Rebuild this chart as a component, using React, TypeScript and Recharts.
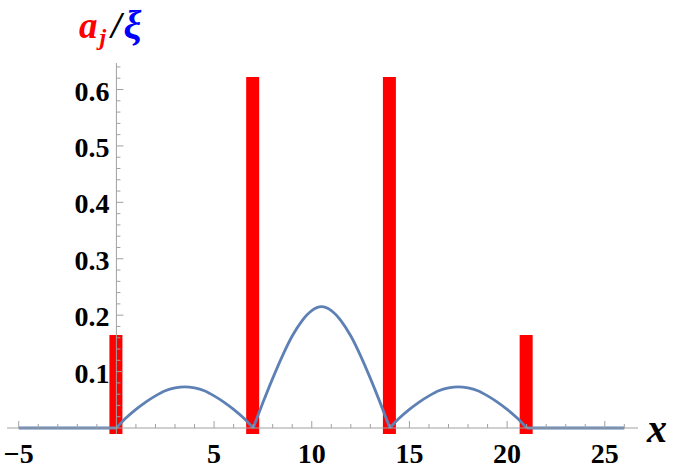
import React from 'react';
import { ComposedChart, Line, Bar, XAxis, YAxis, Scatter, ReferenceLine, Rectangle } from 'recharts';

const W = 675;
const H = 473;

// bars a_j
const barX = [0, 7, 14, 21];
const barHeights = [0.165, 0.622, 0.622, 0.165];

// blue curve xi: arcs sampled every 0.5 from their start
const arcOffsets = [0, 0.5, 1, 1.5, 2, 2.5, 3, 3.5, 4, 4.5, 5, 5.5, 6, 6.5, 7];
const smallArc = [0, 0.018, 0.033, 0.046, 0.057, 0.066, 0.071, 0.073, 0.071, 0.066, 0.057, 0.046, 0.033, 0.018, 0];
const bigArc = [0, 0.045, 0.088, 0.128, 0.163, 0.19, 0.208, 0.215, 0.208, 0.19, 0.163, 0.128, 0.088, 0.045, 0];
const arcStarts = [0, 7, 14];
const flatLeftX = [-5, 0];
const flatRightX = [21, 26];

// ticks
const xTickValues = [-5, -4, -3, -2, -1, 1, 2, 3, 4, 5, 6, 7, 8, 9, 10, 11, 12, 13, 14, 15, 16, 17, 18, 19, 20, 21, 22, 23, 24, 25, 26];
const xLabeledTicks = [-5, 5, 10, 15, 20, 25];
const xTickLabels = ['\u22125', '5', '10', '15', '20', '25'];
const yMajorTicks = [0.1, 0.2, 0.3, 0.4, 0.5, 0.6];
const yTickLabels = ['0.1', '0.2', '0.3', '0.4', '0.5', '0.6'];
const yMinorTicks = [0.02, 0.04, 0.06, 0.08, 0.12, 0.14, 0.16, 0.18, 0.22, 0.24, 0.26, 0.28, 0.32, 0.34, 0.36, 0.38, 0.42, 0.44, 0.46, 0.48, 0.52, 0.54, 0.56, 0.58, 0.62, 0.64];

const X_DOMAIN = [-5.6, 26.7];
const Y_DOMAIN = [0, 0.647];

const barData = barX.map((x, i) => ({ x, a: barHeights[i] }));
const arcs = arcStarts.map((s, k) =>
  arcOffsets.map((o, i) => ({ x: s + o, y: (k === 1 ? bigArc : smallArc)[i] }))
);
const flatLeft = flatLeftX.map((x) => ({ x, y: 0 }));
const flatRight = flatRightX.map((x) => ({ x, y: 0 }));
const yMajorData = yMajorTicks.map((y, i) => ({ x: 0, y, label: yTickLabels[i] }));
const yMinorData = yMinorTicks.map((y) => ({ x: 0, y }));

const AXIS = '#a0a0a0';
const BLUE = '#5E81B5';
const RED = '#FF0000';
const FONT = '"Liberation Serif", "Times New Roman", serif';
const BAR_W = 13;

const XTick = (props: any) => {
  const { x, y, payload } = props;
  const v = payload.value;
  const idx = xLabeledTicks.indexOf(v);
  const major = idx >= 0;
  return (
    <g>
      <line x1={x} x2={x} y1={y} y2={y - (major ? 7 : 4)} stroke={AXIS} strokeWidth={1} />
      {major && (
        <text x={x} y={y + 35} textAnchor="middle" fontFamily={FONT} fontWeight="bold" fontSize={28} fill="#000">
          {xTickLabels[idx]}
        </text>
      )}
    </g>
  );
};

const YMajorShape = (props: any) => {
  const { cx, cy, payload } = props;
  return (
    <g>
      <line x1={cx} x2={cx + 7} y1={cy} y2={cy} stroke={AXIS} strokeWidth={1} />
      <text x={cx - 7} y={cy + 11} textAnchor="end" fontFamily={FONT} fontWeight="bold" fontSize={28} fill="#000">
        {payload.label}
      </text>
    </g>
  );
};

const YMinorShape = (props: any) => {
  const { cx, cy } = props;
  return <line x1={cx} x2={cx + 4} y1={cy} y2={cy} stroke={AXIS} strokeWidth={1} />;
};

const BarShape = (props: any) => {
  const { x, y, width, height } = props;
  const c = x + width / 2;
  return <Rectangle x={c - BAR_W / 2} y={y} width={BAR_W} height={height + 6} fill={RED} />;
};

export default function App() {
  return (
    <div style={{ position: 'absolute', left: 0, top: 0, width: W, height: H, background: '#fff' }}>
      <ComposedChart
        width={W}
        height={H}
        data={barData}
        margin={{ top: 63, right: 37, bottom: 0, left: 7 }}
      >
        <XAxis
          dataKey="x"
          type="number"
          domain={X_DOMAIN}
          ticks={xTickValues}
          interval={0}
          height={45}
          tickSize={0}
          tickMargin={0}
          tickLine={false}
          axisLine={{ stroke: AXIS, strokeWidth: 1 }}
          tick={<XTick />}
        />
        <YAxis type="number" domain={Y_DOMAIN} hide width={0} />
        <Line data={flatLeft} dataKey="y" type="linear" stroke={BLUE} strokeWidth={2.8} dot={false} isAnimationActive={false} />
        {arcs.map((d, k) => (
          <Line key={k} data={d} dataKey="y" type="monotone" stroke={BLUE} strokeWidth={2.8} dot={false} isAnimationActive={false} />
        ))}
        <Line data={flatRight} dataKey="y" type="linear" stroke={BLUE} strokeWidth={2.8} dot={false} isAnimationActive={false} />
        <Bar dataKey="a" barSize={BAR_W} fill={RED} shape={<BarShape />} isAnimationActive={false} />
        <ReferenceLine
          segment={[{ x: 0, y: -0.011 }, { x: 0, y: 0.647 }]}
          stroke={AXIS}
          strokeWidth={1}
          ifOverflow="visible"
        />
        <Scatter data={yMinorData} dataKey="y" shape={<YMinorShape />} isAnimationActive={false} />
        <Scatter data={yMajorData} dataKey="y" shape={<YMajorShape />} isAnimationActive={false} />
      </ComposedChart>
      <svg width={W} height={H} style={{ position: 'absolute', left: 0, top: 0, pointerEvents: 'none' }}>
        <text x={79} y={38} fontFamily={FONT} fontWeight="bold" fontStyle="italic" fontSize={37}>
          <tspan fill={RED}>a</tspan>
          <tspan fill={RED} fontSize={24} dx={2} dy={7}>j</tspan>
          <tspan fill="#000" dx={5} dy={-7}>/</tspan>
          <tspan fill="#0000FF" fontSize={40} dx={2}>ξ</tspan>
        </text>
        <text x={647} y={442} fontFamily={FONT} fontWeight="bold" fontStyle="italic" fontSize={40} fill="#000">
          x
        </text>
      </svg>
    </div>
  );
}
